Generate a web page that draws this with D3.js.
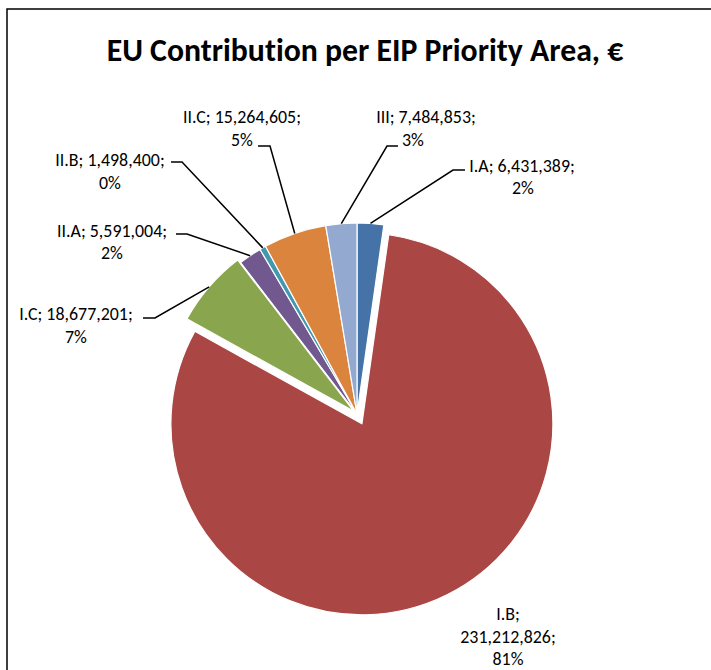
<!DOCTYPE html>
<html>
<head>
<meta charset="utf-8">
<script src="https://cdn.jsdelivr.net/npm/d3@7"></script>
<style>
  html, body { margin: 0; padding: 0; background: #fff; }
  svg { display: block; }
  text { font-family: Carlito, Calibri, Lato, "Open Sans", sans-serif; fill: #000;
         font-variant-ligatures: none; font-feature-settings: "liga" 0; }
</style>
</head>
<body>
<svg id="chart" width="711" height="670"></svg>
<script>
// ---- data ----
const categories = ["I.A", "I.B", "I.C", "II.A", "II.B", "II.C", "III"];
const values = [6431389, 231212826, 18677201, 5591004, 1498400, 15264605, 7484853];
const percentLabels = ["2%", "81%", "7%", "2%", "0%", "5%", "3%"];
const colors = ["#4572A7", "#AA4643", "#89A54E", "#71588F", "#4198AF", "#DB843D", "#93A9CF"];
const title = "EU Contribution per EIP Priority Area, €";

// ---- layout ----
const cx = 357, cy = 414, R = 191;
const explode = [0, 11, 4, 0, 0, 0, 0];
// label layout: elbow point of leader, line text centres and baselines
const labelLayout = [
  { elbow: [453, 170], end: [465, 170], lines: [[522, 172], [523, 194]], split: 1 },
  { elbow: null, lines: [[508, 620], [508, 643], [508, 665]], split: 2 },
  { elbow: [155, 318], end: [143, 318], lines: [[76, 320], [76, 343]], split: 1 },
  { elbow: [187, 234], end: [176, 234], lines: [[112, 237], [112, 259]], split: 1 },
  { elbow: [182, 162], end: [171, 162], lines: [[110, 166], [110, 189]], split: 1 },
  { elbow: [270, 146], end: [258, 146], lines: [[242, 123], [242, 146]], split: 1 },
  { elbow: [387, 146], end: [398, 146], lines: [[426, 123], [413, 146]], split: 1 }
];

const svg = d3.select("#chart");
const fmt = d3.format(",");

// frame
svg.append("path")
  .attr("d", "M7,670 L7,9 L711,9")
  .attr("fill", "none").attr("stroke", "#000").attr("stroke-width", 1.5);

// title
const t = svg.append("text")
  .attr("x", 365).attr("y", 61)
  .attr("text-anchor", "middle")
  .attr("font-weight", "bold")
  .attr("font-size", 28)
  .text(title);
const tw = t.node().getComputedTextLength();
t.attr("font-size", 28 * 517 / tw);

// label font size: fit a sample label line to its reference width
const probe = svg.append("text").attr("font-size", 15).text("II.C; 15,264,605;");
const labelSize = Math.min(18, 15 * 118 / probe.node().getComputedTextLength());
probe.remove();

const pie = d3.pie().value(d => d).sort(null);
const arcs = pie(values);
const arc = d3.arc().innerRadius(0).outerRadius(R);

const g = svg.append("g").attr("transform", `translate(${cx},${cy})`);

g.selectAll("path.slice")
  .data(arcs)
  .enter().append("path")
  .attr("class", "slice")
  .attr("d", arc)
  .attr("fill", (d, i) => colors[i])
  .attr("stroke", "#fff")
  .attr("stroke-width", 1.2)
  .attr("stroke-linejoin", "round")
  .attr("transform", (d, i) => {
    const a = (d.startAngle + d.endAngle) / 2;
    return `translate(${Math.sin(a) * explode[i]},${-Math.cos(a) * explode[i]})`;
  });

// leaders & labels
arcs.forEach((d, i) => {
  const L = labelLayout[i];
  const a = (d.startAngle + d.endAngle) / 2;
  const ax = cx + Math.sin(a) * (R + explode[i]);
  const ay = cy - Math.cos(a) * (R + explode[i]);
  if (L.elbow) {
    svg.append("polyline")
      .attr("points", [[ax, ay], L.elbow, L.end].map(p => p.join(",")).join(" "))
      .attr("fill", "none").attr("stroke", "#000").attr("stroke-width", 1.5);
  }
  let lines;
  if (L.split === 2) {
    lines = [categories[i] + ";", fmt(values[i]) + ";", percentLabels[i]];
  } else {
    lines = [categories[i] + "; " + fmt(values[i]) + ";", percentLabels[i]];
  }
  lines.forEach((s, k) => {
    svg.append("text")
      .attr("x", L.lines[k][0]).attr("y", L.lines[k][1])
      .attr("text-anchor", "middle")
      .attr("font-size", labelSize)
      .text(s);
  });
});
</script>
</body>
</html>
